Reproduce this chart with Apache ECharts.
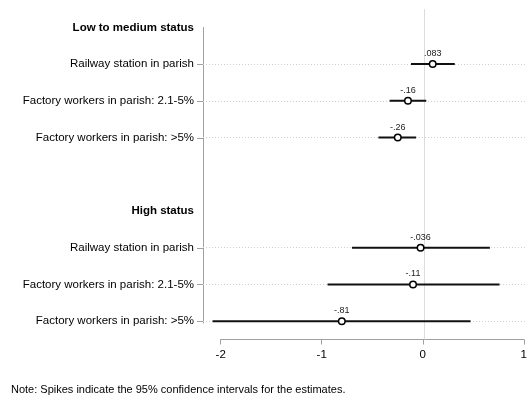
<!DOCTYPE html>
<html>
<head>
<meta charset="utf-8">
<script src="https://cdn.jsdelivr.net/npm/echarts@6/dist/echarts.min.js"></script>
<style>html,body{margin:0;padding:0;background:#fff}#c{width:530px;height:402px}</style>
</head>
<body>
<div id="c"></div>
<script>
// ---- data ----
var categories = ['Low to medium status', 'Railway station in parish', 'Factory workers in parish: 2.1-5%', 'Factory workers in parish: >5%', '',
                  'High status', 'Railway station in parish', 'Factory workers in parish: 2.1-5%', 'Factory workers in parish: >5%'];
var headingRows = [0, 5];
var rowIndex = [1, 2, 3, 6, 7, 8];
var estimates = [0.083, -0.16, -0.26, -0.036, -0.11, -0.81];
var lower = [-0.13, -0.34, -0.45, -0.71, -0.95, -2.08];
var upper = [0.30, 0.02, -0.08, 0.645, 0.74, 0.455];
var xTicks = [-2, -1, 0, 1];
var note = 'Note: Spikes indicate the 95% confidence intervals for the estimates.';

var FONT = 'Liberation Sans, Arial, sans-serif';
var X_MIN = -2.174;
function fmt(v) { return String(v).replace(/^(-?)0\./, '$1.'); }

var pointData = rowIndex.map(function (r, i) { return [estimates[i], r]; });
var ciData = rowIndex.map(function (r, i) { return [lower[i], r, upper[i]]; });
var tickData = rowIndex.map(function (r) { return [X_MIN, r]; });

var chart = echarts.init(document.getElementById('c'), null, {renderer: 'canvas'});
chart.setOption({
  animation: false,
  backgroundColor: '#fff',
  textStyle: {fontFamily: FONT},
  title: {
    text: note, left: 6, top: 379,
    textStyle: {fontSize: 11, fontWeight: 'normal', color: '#000', fontFamily: FONT}
  },
  grid: [
    {left: 203, right: 4, top: 9, bottom: 62.5},
    {left: 220.7, right: 4, top: 300, bottom: 62.5},
    {left: 203, width: 1, top: 27.5, bottom: 79}
  ],
  xAxis: [
    {gridIndex: 0, type: 'value', min: X_MIN, max: 1, show: false},
    {gridIndex: 1, type: 'value', min: xTicks[0], max: xTicks[xTicks.length - 1], interval: 1,
     axisLine: {show: true, lineStyle: {color: '#a0a0a0', width: 1}},
     axisTick: {show: true, length: 5, lineStyle: {color: '#a0a0a0'}},
     axisLabel: {margin: 9, fontSize: 11.5, color: '#000', fontFamily: FONT},
     splitLine: {show: false}},
    {gridIndex: 2, type: 'value', show: false}
  ],
  yAxis: [
    {gridIndex: 0, type: 'category', data: categories, inverse: true, boundaryGap: true,
     axisLine: {show: false},
     axisTick: {show: false},
     axisLabel: {interval: 0, margin: 9, fontSize: 11.5, color: '#000', fontFamily: FONT,
                 formatter: function (v, idx) {
                   if (headingRows.indexOf(idx) >= 0) return '{b|' + v + '}';
                   return v;
                 },
                 rich: {b: {fontWeight: 'bold', fontSize: 11.5, color: '#000', fontFamily: FONT}}},
     splitLine: {show: false}},
    {gridIndex: 1, type: 'value', show: false},
    {gridIndex: 2, type: 'value', min: 0, max: 1,
     axisLine: {show: true, lineStyle: {color: '#a0a0a0', width: 1}},
     axisTick: {show: false}, axisLabel: {show: false}, splitLine: {show: false}}
  ],
  series: [
    {
      // y-axis ticks for the coefficient rows (not for the group headings)
      type: 'custom', xAxisIndex: 0, yAxisIndex: 0, z: 2, silent: true, clip: false,
      data: tickData,
      renderItem: function (params, api) {
        var p = api.coord([api.value(0), api.value(1)]);
        var y = Math.round(p[1]) + 0.5;
        return {type: 'line', shape: {x1: p[0] - 6, y1: y, x2: p[0], y2: y},
                style: {stroke: '#a0a0a0', lineWidth: 1}};
      }
    },
    {
      type: 'custom', xAxisIndex: 0, yAxisIndex: 0, z: 2,
      data: ciData,
      renderItem: function (params, api) {
        var a = api.coord([api.value(0), api.value(1)]);
        var b = api.coord([api.value(2), api.value(1)]);
        return {type: 'line', shape: {x1: a[0], y1: a[1], x2: b[0], y2: b[1]},
                style: {stroke: '#111', lineWidth: 2}};
      }
    },
    {
      type: 'scatter', xAxisIndex: 0, yAxisIndex: 0, z: 3,
      data: pointData,
      symbol: 'circle', symbolSize: 6.5,
      itemStyle: {color: '#fff', borderColor: '#000', borderWidth: 1.5, opacity: 1},
      label: {show: true, position: 'top', distance: 2, fontSize: 9, color: '#222', fontFamily: FONT,
              formatter: function (p) { return fmt(p.value[0]); }},
      markLine: {
        silent: true, symbol: 'none', z: 1, label: {show: false},
        data: rowIndex.map(function (r) {
          return {yAxis: r, lineStyle: {color: '#d0d0d0', type: [1, 2], width: 1}};
        }).concat([{xAxis: 0, lineStyle: {color: '#dcdcdc', type: 'solid', width: 1}}])
      }
    }
  ]
});
</script>
</body>
</html>
